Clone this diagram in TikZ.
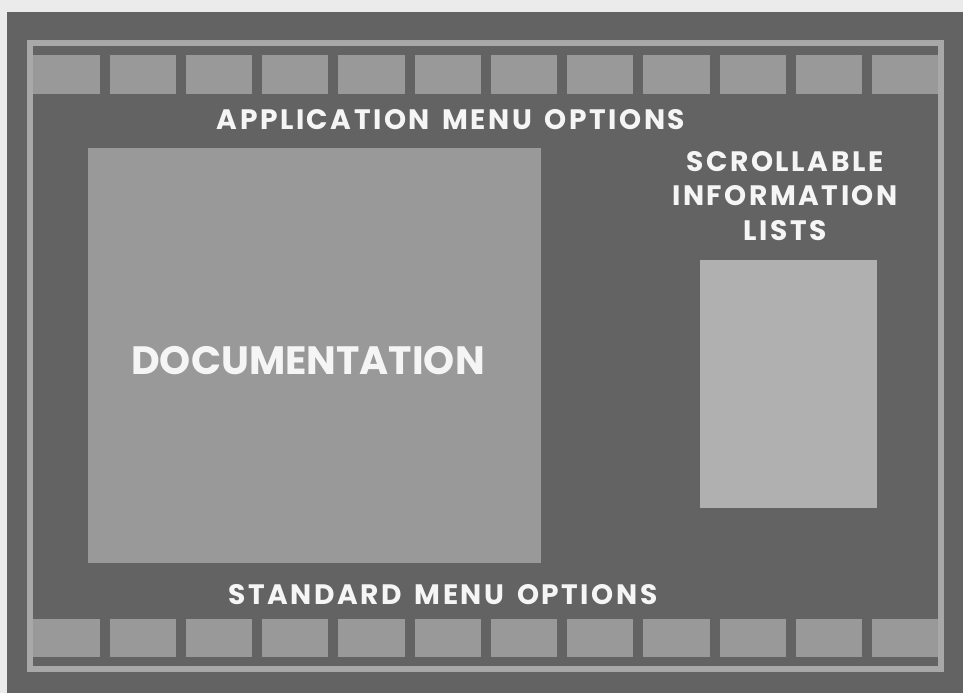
\documentclass[tikz,border=0pt]{standalone}
\usepackage{fontspec}
\setmainfont{Poppins}
\newfontfamily\capfont{Poppins}[LetterSpace=9, WordSpace=1.5]
\usetikzlibrary{positioning}

\definecolor{paper}{gray}{0.92}
\definecolor{screen}{gray}{0.39}
\definecolor{panel}{gray}{0.60}
\definecolor{rim}{gray}{0.66}
\definecolor{listpanel}{gray}{0.69}
\definecolor{caption}{gray}{0.96}

\begin{document}
\begin{tikzpicture}[
    x=0.02cm, y=-0.02cm,
    key/.style={rectangle, fill=panel, inner sep=0pt, anchor=north west,
                minimum width=1.325cm},
    pane/.style={rectangle, inner sep=0pt, anchor=north west},
    lbl/.style={text=caption, font=\capfont\bfseries\fontsize{16}{19.8}\selectfont,
                align=center},
]
\useasboundingbox (0,0) rectangle (963,693);
\fill[paper] (0,0) rectangle (963,693);
\fill[screen] (7,12) rectangle (963,693);

% frame line round the screen
\draw[rim, line width=0.12cm] (30,43) rectangle (941,669);

% option keys, top and bottom rows
\foreach \i in {0,...,11} {
    \node[key, minimum height=0.78cm] (app\i) at ({33+\i*76.25},55) {};
    \node[key, minimum height=0.76cm] (std\i) at ({33+\i*76.25},619) {};
}

\node[lbl] (applbl) at (451,120) {APPLICATION MENU OPTIONS};
\node[lbl] (stdlbl) at (443,595) {STANDARD MENU OPTIONS};

% work areas
\node[pane, fill=panel, minimum width=9.06cm, minimum height=8.3cm]
    (doc) at (88,148) {};
\node[lbl, font=\bfseries\fontsize{22.5}{26}\selectfont] (doclbl) at (308,361)
    {DOCUMENTATION};

\node[pane, fill=listpanel, minimum width=3.54cm, minimum height=4.96cm]
    (list) at (700,260) {};
\node[lbl] (listlbl) at (785,196) {SCROLLABLE\\INFORMATION\\LISTS};

\end{tikzpicture}
\end{document}
